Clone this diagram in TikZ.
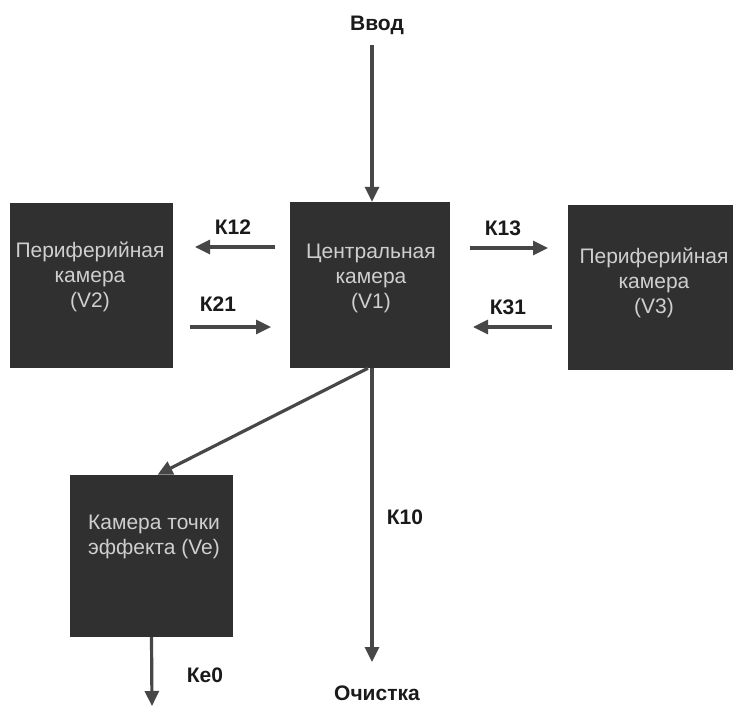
\documentclass[tikz,border=0pt]{standalone}
\usepackage{fontspec}
\setmainfont{Liberation Sans}
\usetikzlibrary{arrows.meta}
\definecolor{boxfill}{HTML}{303030}
\definecolor{boxtext}{HTML}{CFCFCF}
\definecolor{linec}{HTML}{474747}
\definecolor{labc}{HTML}{1A1A1A}
\begin{document}
\begin{tikzpicture}[x=1pt,y=-1pt,
  chamber/.style={fill=boxfill, draw=none, inner sep=0pt},
  boxtxt/.style={text=boxtext, align=center, inner sep=0pt, font=\fontsize{21}{25}\selectfont},
  lab/.style={text=labc, inner sep=0pt, font=\fontsize{21}{24}\selectfont\bfseries},
  arr/.style={draw=linec, line width=3.2pt, -{Triangle[length=15pt,width=14pt]}}]
\useasboundingbox (0,0) rectangle (733,706);
\fill[white] (0,0) rectangle (733,706);

% chambers
\node[chamber, minimum width=160pt, minimum height=166pt] (V1) at (370,285) {};
\node[chamber, minimum width=163pt, minimum height=165pt] (V2) at (91.5,285.5) {};
\node[chamber, minimum width=165pt, minimum height=165pt] (V3) at (650.5,287.5) {};
\node[chamber, minimum width=163pt, minimum height=162pt] (Ve) at (151.5,556) {};

\node[boxtxt] (t1) at (371,278) {Центральная\\камера\\(V1)};
\node[boxtxt] (t2) at (90,277) {Периферийная\\камера\\(V2)};
\node[boxtxt] (t3) at (654,283) {Периферийная\\камера\\(V3)};
\node[boxtxt] (te) at (154,537) {Камера точки\\эффекта (Ve)};

% labels
\node[lab] (lin) at (377,25) {Ввод};
\node[lab] (lout) at (377,693) {Очистка};
\node[lab] (l12) at (233,227) {К12};
\node[lab] (l21) at (218,304) {К21};
\node[lab] (l13) at (503,228) {К13};
\node[lab] (l31) at (508,307) {К31};
\node[lab] (l10) at (405,517) {К10};
\node[lab] (le0) at (205,675) {Кe0};

% free ends
\coordinate (inS) at (372,45);
\coordinate (a12s) at (275,247);
\coordinate (a12e) at (195,247);
\coordinate (a21s) at (190,327);
\coordinate (a21e) at (271,327);
\coordinate (a13s) at (470,248);
\coordinate (a13e) at (548,248);
\coordinate (a31s) at (552,327);
\coordinate (a31e) at (473,327);
\coordinate (k10e) at (372,662);
\coordinate (ke0e) at (152,706);

% connectors
\draw[arr] (inS) -- (inS |- V1.north);
\draw[arr] (a12s) -- (a12e);
\draw[arr] (a21s) -- (a21e);
\draw[arr] (a13s) -- (a13e);
\draw[arr] (a31s) -- (a31e);
\draw[arr] ([xshift=-2pt]V1.south) -- ([xshift=6pt]Ve.north);
\draw[arr] ([xshift=2pt]V1.south) -- (k10e);
\draw[arr] (Ve.south) -- (ke0e);
\end{tikzpicture}
\end{document}
